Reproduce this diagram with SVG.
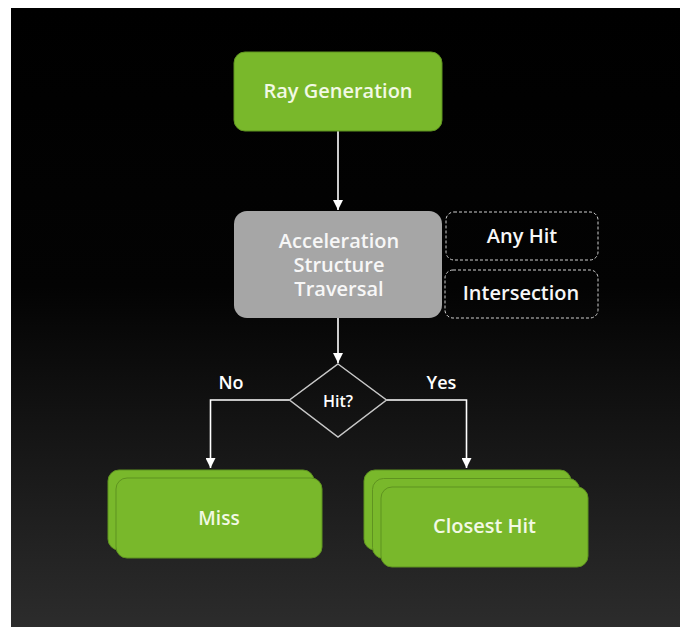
<svg xmlns="http://www.w3.org/2000/svg" width="680" height="627" viewBox="0 0 680 627">
<defs>
<linearGradient id="bg" x1="0" y1="8" x2="0" y2="627" gradientUnits="userSpaceOnUse">
<stop offset="0" stop-color="#000000"/>
<stop offset="0.45" stop-color="#030303"/>
<stop offset="1" stop-color="#2c2c2c"/>
</linearGradient>
<marker id="arr" viewBox="0 0 10 10" refX="10" refY="5" markerWidth="10" markerHeight="10" markerUnits="userSpaceOnUse" orient="auto">
<path d="M0,0 L10,5 L0,10 Z" fill="#ffffff"/>
</marker>
<style>
.lbl{font-family:"Open Sans","Liberation Sans",sans-serif;text-anchor:middle;font-weight:600;}
.g{fill:#79b82b;stroke:#5f9320;stroke-width:1;}
.gt{fill:#f2f9e4;font-size:20px;}
.wt{fill:#f7f7f7;font-size:20px;}
.dash{fill:none;stroke:#d0d0d0;stroke-width:1;stroke-dasharray:3 2;}
.con{stroke:#ffffff;stroke-width:1.6;fill:none;}
</style>
</defs>
<rect x="0" y="0" width="680" height="627" fill="#ffffff"/>
<rect x="11" y="8" width="669" height="619" fill="url(#bg)"/>

<g id="connectors">
<line class="con" x1="338" y1="131" x2="338" y2="210" marker-end="url(#arr)"/>
<line class="con" x1="338" y1="318" x2="338" y2="363" marker-end="url(#arr)"/>
<polyline class="con" points="289.5,400 210.5,400 210.5,468" marker-end="url(#arr)"/>
<polyline class="con" points="386.5,400 466.5,400 466.5,468" marker-end="url(#arr)"/>
<text class="lbl" x="231" y="389" font-size="18" fill="#ffffff">No</text>
<text class="lbl" x="441.5" y="389" font-size="18" fill="#ffffff">Yes</text>
</g>

<g id="ray-generation">
<rect class="g" x="234" y="52" width="208" height="79" rx="11"/>
<text class="lbl gt" x="338" y="98">Ray Generation</text>
</g>

<g id="traversal">
<rect x="234" y="211" width="208" height="107" rx="13" fill="#a6a6a6"/>
<text class="lbl wt" x="339" y="248">Acceleration<tspan x="339" dy="24">Structure</tspan><tspan x="339" dy="24">Traversal</tspan></text>
</g>

<g id="any-hit">
<rect class="dash" x="446" y="212" width="152" height="48" rx="8"/>
<text class="lbl wt" x="522" y="243">Any Hit</text>
</g>

<g id="intersection">
<rect class="dash" x="445" y="270" width="153" height="48" rx="8"/>
<text class="lbl wt" x="521" y="300">Intersection</text>
</g>

<g id="hit-decision">
<polygon points="338,364 386.5,400 338,437 289.5,400" fill="none" stroke="#c8c8c8" stroke-width="1.5"/>
<text class="lbl" x="338" y="407" font-size="16" fill="#ffffff">Hit?</text>
</g>

<g id="miss">
<rect class="g" x="108" y="470" width="206" height="80" rx="11"/>
<rect class="g" x="116" y="478" width="206" height="80" rx="11"/>
<text class="lbl gt" x="219" y="525" style="font-size:19px">Miss</text>
</g>

<g id="closest-hit">
<rect class="g" x="364" y="470" width="207" height="80" rx="11"/>
<rect class="g" x="372.5" y="478.5" width="207" height="80" rx="11"/>
<rect class="g" x="381" y="487" width="207" height="80" rx="11"/>
<text class="lbl gt" x="484.5" y="533">Closest Hit</text>
</g>
</svg>
